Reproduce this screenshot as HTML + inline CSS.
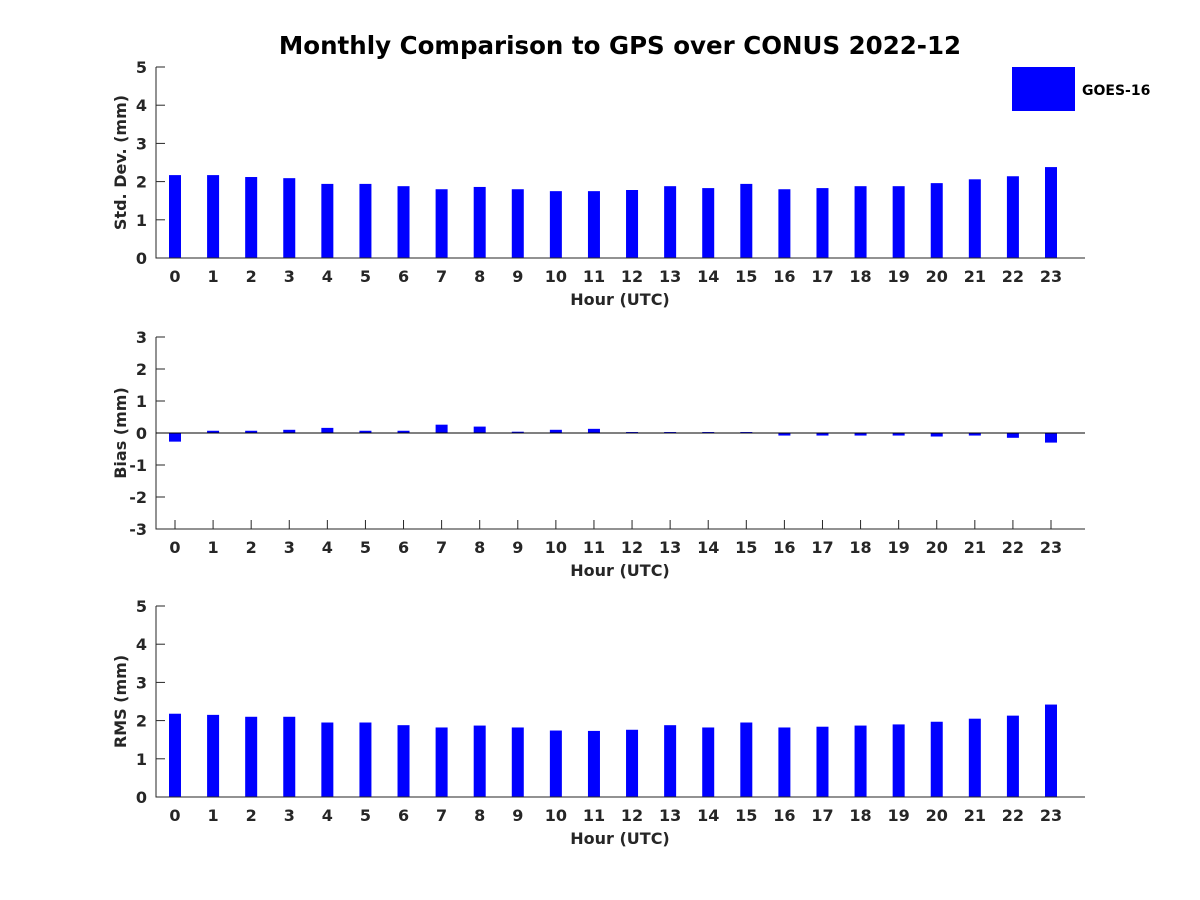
<!DOCTYPE html>
<html><head><meta charset="utf-8"><style>
body{margin:0;background:#fff;}
svg{display:block;font-family:"DejaVu Sans","Liberation Sans",sans-serif;font-weight:bold;}
</style></head><body>
<svg id="c" width="1200" height="900" viewBox="0 0 1200 900">
<text x="620" y="54" text-anchor="middle" font-size="24.5" fill="#000">Monthly Comparison to GPS over CONUS 2022-12</text>
<rect x="1012" y="67" width="63" height="44" fill="#0000ff"/>
<text x="1082" y="95" font-size="14" fill="#000">GOES-16</text>
</svg>
<script>
const hours=[0,1,2,3,4,5,6,7,8,9,10,11,12,13,14,15,16,17,18,19,20,21,22,23];
const stdVals=[2.17,2.17,2.12,2.09,1.94,1.94,1.88,1.8,1.86,1.8,1.75,1.75,1.78,1.88,1.83,1.94,1.8,1.83,1.88,1.88,1.96,2.06,2.14,2.38];
const biasVals=[-0.27,0.07,0.07,0.1,0.16,0.07,0.07,0.26,0.2,0.04,0.1,0.13,0.03,0.03,0.03,0.03,-0.08,-0.08,-0.08,-0.08,-0.11,-0.08,-0.15,-0.3];
const rmsVals=[2.18,2.15,2.1,2.1,1.95,1.95,1.88,1.82,1.87,1.82,1.74,1.73,1.76,1.88,1.82,1.95,1.82,1.84,1.87,1.9,1.97,2.05,2.13,2.42];
const stdTicks=[0,1,2,3,4,5];
const biasTicks=[-3,-2,-1,0,1,2,3];
const rmsTicks=[0,1,2,3,4,5];
const NS='http://www.w3.org/2000/svg';
const svg=document.getElementById('c');
function mk(t,a,txt){const e=document.createElementNS(NS,t);for(const k in a)e.setAttribute(k,a[k]);if(txt!==undefined)e.textContent=txt;svg.appendChild(e);return e;}
const X0=156,X1=1085;
function xs(h){return 175+(h-hours[0])*(1051-175)/(hours[hours.length-1]-hours[0]);}
function panel(name,vals,ticks,yTop,yBot,ylabel){
  const lo=ticks[0],hi=ticks[ticks.length-1];
  const ys=v=>yBot-(v-lo)*(yBot-yTop)/(hi-lo);
  const z=ys(Math.max(lo,0));
  ticks.forEach(t=>{
    const y=ys(t);
    mk('line',{x1:X0,x2:X0+9,y1:y,y2:y,stroke:'#262626'});
    const tl=mk('text',{x:X0-9,y:y+6,'text-anchor':'end','font-size':16,fill:'#262626'},String(t));
    
    
  });
  hours.forEach(h=>{
    const x=xs(h);
    mk('line',{x1:x,x2:x,y1:yBot,y2:yBot-9,stroke:'#262626'});
    const tl=mk('text',{x:x,y:yBot+24,'text-anchor':'middle','font-size':16,fill:'#262626'},String(h));
    
    
  });
  vals.forEach((v,i)=>{
    const y1=ys(v);
    const r=mk('rect',{x:xs(hours[i])-6,y:Math.min(y1,z),width:12,height:Math.max(Math.abs(y1-z),0.5),fill:'#0000ff'});
    
    
  });
  const ax=mk('path',{d:`M${X0},${yTop}V${yBot}H${X1}`,stroke:'#262626','stroke-width':1,fill:'none'});
  
  
  if(lo<0){const zl=mk('line',{x1:X0,x2:X1,y1:z,y2:z,stroke:'#000','stroke-width':1});
    
    }
  const xl=mk('text',{x:620,y:yBot+47,'text-anchor':'middle','font-size':16,fill:'#262626'},'Hour (UTC)');
  
  
  const cy=(yTop+yBot)/2;
  const yl=mk('text',{x:0,y:0,transform:`translate(126,${cy}) rotate(-90)`,'text-anchor':'middle','font-size':16,fill:'#262626'},ylabel);
  
  
}
panel('std-dev',stdVals,stdTicks,67,258,'Std. Dev. (mm)');
panel('bias',biasVals,biasTicks,337,529,'Bias (mm)');
panel('rms',rmsVals,rmsTicks,606,797,'RMS (mm)');
</script>
</body></html>
